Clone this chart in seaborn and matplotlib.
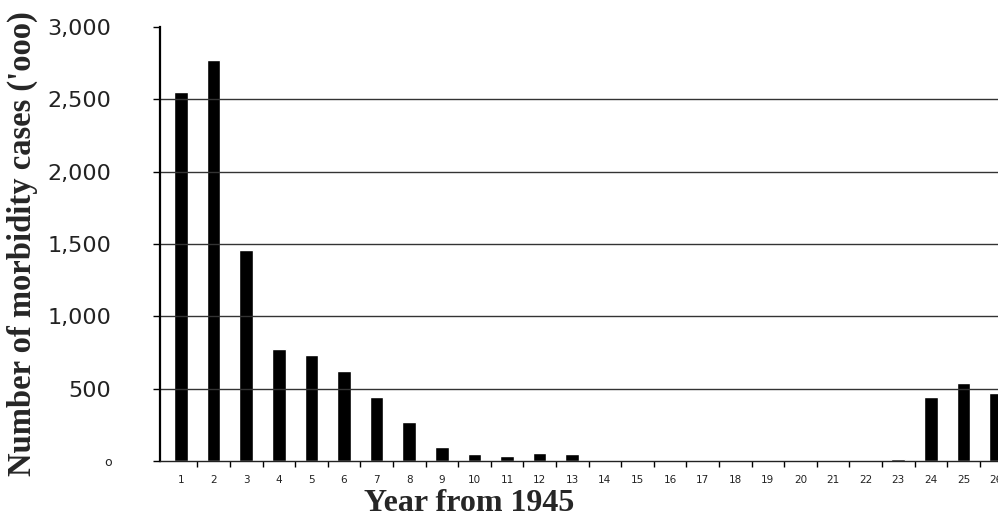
import numpy as np
import pandas as pd
import matplotlib
matplotlib.use("Agg")
import matplotlib.pyplot as plt
import seaborn as sns
from matplotlib.ticker import FixedLocator

# values (thousands of cases)
years = list(range(1, 27))
cases = [2550, 2770, 1460, 776, 735, 623, 445, 267, 100, 48, 34, 55, 48,
         0, 0, 0, 0, 0, 0, 0, 0, 0, 12, 445, 540, 473]
ytick_vals = [0, 500, 1000, 1500, 2000, 2500, 3000]
ytick_text = ["o", "500", "1,000", "1,500", "2,000", "2,500", "3,000"]

df = pd.DataFrame({"year": years, "cases": cases})

sns.set_style("white")
fig = plt.figure(figsize=(9.98, 5.2), dpi=100)
ax = fig.add_axes([160 / 998, 59 / 520, 838 / 998, 434 / 520])

sns.barplot(data=df, x="year", y="cases", color="black", width=0.42,
            saturation=1, ax=ax)

ax.set_ylim(0, 3000)
ax.set_xlim(-0.644, 25.06)

# grid lines (none at the top value); dark lines vanish over the black bars
for v in ytick_vals[1:-1]:
    ax.axhline(v, color="#333333", lw=1.0, zorder=2)

for s in ["top", "right"]:
    ax.spines[s].set_visible(False)
ax.spines["left"].set_color("black")
ax.spines["left"].set_linewidth(1.6)
ax.spines["bottom"].set_color("#222222")
ax.spines["bottom"].set_linewidth(1.0)

ax.set_yticks(ytick_vals)
ax.set_yticklabels(ytick_text, fontsize=16, color="#222222")
ax.tick_params(axis="y", length=5, width=1, pad=30, left=True, color="black")
ax.get_yticklabels()[0].set_fontsize(9)

ax.set_xticks(range(len(years)))
ax.set_xticklabels([str(y) for y in years], fontsize=7.5, color="#222222")
ax.tick_params(axis="x", length=0, pad=10)
ax.xaxis.set_minor_locator(FixedLocator(np.arange(len(years)) + 0.5))
ax.tick_params(axis="x", which="minor", length=4, width=1, bottom=True,
               color="black", direction="out")

ax.set_xlabel("Year from 1945", fontsize=23, fontweight="bold",
              family="Liberation Serif")
ax.xaxis.set_label_coords((469 - 160) / 838, -0.065)
ax.set_ylabel("Number of morbidity cases ('ooo)", fontsize=23.5,
              fontweight="bold", family="Liberation Serif")
ax.yaxis.set_label_coords(-0.146, 0.5)

fig.savefig("out.png", dpi=100)
